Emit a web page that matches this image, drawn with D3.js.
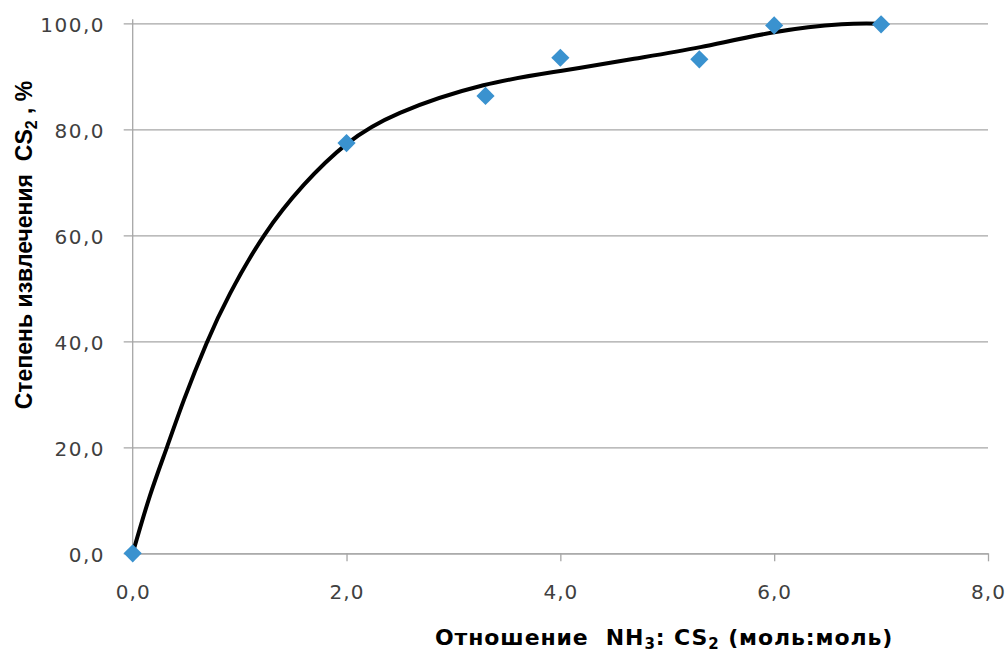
<!DOCTYPE html>
<html>
<head>
<meta charset="utf-8">
<script src="https://cdn.jsdelivr.net/npm/d3@7"></script>
<style>
  html, body { margin: 0; padding: 0; background: #fff; }
  svg { display: block; }
  text { white-space: pre; }
</style>
</head>
<body>
<svg id="chart" width="1005" height="652"></svg>
<script>
// Measured points: NH3:CS2 molar ratio vs CS2 recovery degree, %
const ratio = [0, 2.0, 3.3, 4.0, 5.3, 6.0, 7.0];
const recovery = [0, 77.4, 86.3, 93.5, 93.2, 99.6, 99.8];

// Smoothed approximating curve
const fitRatio = [0, 0.16, 0.32, 0.48, 0.69, 0.91, 1.23, 1.6, 2.0, 2.5, 3.28, 4.0, 4.69, 5.31, 6.0, 6.63, 7.0];
const fitRecovery = [0, 10.8, 20.0, 29.0, 39.6, 49.0, 60.0, 69.5, 77.2, 83.1, 88.3, 91.0, 93.3, 95.5, 98.3, 99.8, 99.9];

const xTicks = [0, 2, 4, 6, 8];
const yTicks = [0, 20, 40, 60, 80, 100];

const svg = d3.select("#chart");
const plotLeft = 132.7, plotRight = 988, plotTop = 23.3, plotBottom = 553.3;

const x = d3.scaleLinear().domain([0, 8]).range([plotLeft, plotRight]);
const y = d3.scaleLinear().domain([0, 100]).range([plotBottom, plotTop]);
const fmt = d => d3.format(".1f")(d).replace(".", ",");

const gridColor = "#a6a6a6";
const labelColor = "#404040";

// Horizontal gridlines + y axis
const yAxis = svg.append("g")
  .attr("transform", `translate(${plotLeft},0)`)
  .call(d3.axisLeft(y).tickValues(yTicks).tickSize(-(plotRight - plotLeft)).tickSizeOuter(0).tickFormat(fmt));
yAxis.select(".domain").remove();
yAxis.selectAll(".tick line")
  .attr("x1", -9).attr("stroke", gridColor).attr("stroke-width", 1.3);
yAxis.selectAll(".tick text")
  .attr("x", -27.7).attr("dy", "0.42em")
  .attr("fill", labelColor)
  .style("font-family", "'DejaVu Sans', sans-serif")
  .style("font-size", "20px")
  .style("letter-spacing", "1.5px");

// vertical axis line
svg.append("line")
  .attr("x1", plotLeft).attr("x2", plotLeft)
  .attr("y1", plotTop - 4).attr("y2", plotBottom)
  .attr("stroke", gridColor).attr("stroke-width", 1.3);

// X axis
const xAxis = svg.append("g")
  .attr("transform", `translate(0,${plotBottom})`)
  .call(d3.axisBottom(x).tickValues(xTicks).tickSize(8).tickSizeOuter(0).tickFormat(fmt));
xAxis.select(".domain").attr("stroke", gridColor).attr("stroke-width", 1.3);
xAxis.selectAll(".tick line").attr("stroke", gridColor).attr("stroke-width", 1.3);
xAxis.selectAll(".tick text")
  .attr("y", 46).attr("dy", 0)
  .attr("fill", labelColor)
  .style("font-family", "'DejaVu Sans', sans-serif")
  .style("font-size", "20px")
  .style("letter-spacing", "1px");

// Approximating curve
const fitData = fitRatio.map((r, i) => [r, fitRecovery[i]]);
svg.append("path")
  .datum(fitData)
  .attr("fill", "none")
  .attr("stroke", "#000")
  .attr("stroke-width", 4)
  .attr("stroke-linecap", "round")
  .attr("stroke-linejoin", "round")
  .attr("d", d3.line().x(d => x(d[0])).y(d => y(d[1])).curve(d3.curveNatural));

// Experimental points (diamonds)
const pts = ratio.map((r, i) => [r, recovery[i]]);
svg.append("g").selectAll("path")
  .data(pts)
  .join("path")
  .attr("transform", d => `translate(${x(d[0])},${y(d[1])}) rotate(45)`)
  .attr("d", d3.symbol().type(d3.symbolSquare).size(165))
  .attr("fill", "#3a92cf");

// Axis titles
const xTitle = svg.append("text")
  .attr("x", 435).attr("y", 645)
  .attr("fill", "#000")
  .style("font-family", "'DejaVu Sans', sans-serif")
  .style("font-weight", "bold")
  .style("font-size", "22px")
  .style("letter-spacing", "0.9px");
xTitle.append("tspan").text("Отношение  NH");
xTitle.append("tspan").attr("dy", 4).style("font-size", "15px").text("3");
xTitle.append("tspan").attr("dy", -4).text(": CS");
xTitle.append("tspan").attr("dy", 4).style("font-size", "15px").text("2");
xTitle.append("tspan").attr("dy", -4).text(" (моль:моль)");

const yTitle = svg.append("text")
  .attr("transform", "translate(32,245) rotate(-90)")
  .attr("text-anchor", "middle")
  .attr("fill", "#000")
  .style("font-family", "'Liberation Sans', Arial, sans-serif")
  .style("font-weight", "bold")
  .style("font-size", "23px");
yTitle.append("tspan").text("Степень извлечения  CS");
yTitle.append("tspan").attr("dy", 5).style("font-size", "16px").text("2");
yTitle.append("tspan").attr("dy", -5).text(" , %");
</script>
</body>
</html>
